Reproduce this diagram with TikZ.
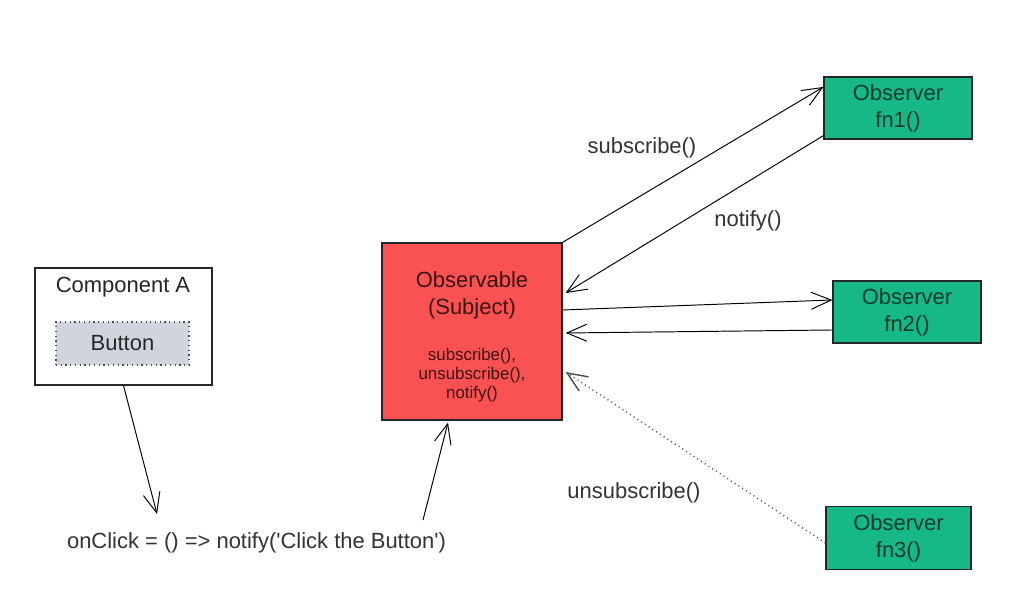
\documentclass[tikz,border=0pt]{standalone}
\usepackage{fontspec}
\setmainfont{Liberation Sans}
\usetikzlibrary{arrows.meta, positioning, calc}
\definecolor{obsred}{HTML}{FA5252}
\definecolor{obsgreen}{HTML}{15B886}
\definecolor{btngray}{HTML}{D0D5DD}
\definecolor{inkgray}{HTML}{333333}
\definecolor{redink}{HTML}{3B1212}
\definecolor{greenink}{HTML}{0D3A2B}

\tikzset{
  box/.style={draw=black!85, line width=0.7pt, inner sep=0pt},
  observer/.style={box, fill=obsgreen, minimum width=2.96cm, minimum height=1.24cm,
    align=center, text=greenink, font=\fontsize{12.5}{15.5}\selectfont},
  msg/.style={text=inkgray, font=\fontsize{12.5}{14}\selectfont},
  link/.style={draw=black, line width=0.55pt, -{Straight Barb[length=4mm, width=3.4mm]}},
}

\begin{document}
\begin{tikzpicture}

% Canvas (1017 x 598 px, 50 px = 1 cm)
\useasboundingbox (0,0) rectangle (20.34,11.96);
\fill[white] (0,0) rectangle (20.34,11.96);

% Component A with its button
\node[box, fill=white, minimum width=3.54cm, minimum height=2.34cm] (compA) at (2.47,5.43) {};
\node[msg, text=black!85] (compTitle) at (2.46,6.22) {Component A};
\node[box, draw=black!70, dotted, line width=0.8pt, fill=btngray,
  minimum width=2.66cm, minimum height=0.86cm, msg, text=black!85] (button) at (2.45,5.09) {\raisebox{-0.4ex}{Button}};

% Observable (subject)
\node[box, fill=obsred, minimum width=3.6cm, minimum height=3.54cm] (obs) at (9.44,5.33) {};
\node[align=center, text=redink, font=\fontsize{12.5}{15.5}\selectfont] (obsTitle) at (9.44,6.06)
  {Observable\\(Subject)};
\node[align=center, text=redink, font=\fontsize{9.6}{11}\selectfont] (obsMethods) at (9.44,4.46)
  {subscribe(),\\unsubscribe(),\\notify()};

% Observers
\node[observer] (fn1) at (17.96,9.80) {Observer\\fn1()};
\node[observer] (fn2) at (18.14,5.72) {Observer\\fn2()};
\node[observer, minimum width=2.9cm, minimum height=1.26cm] (fn3) at (17.97,1.20) {Observer\\fn3()};

% Message labels
\node[msg] (subLabel) at (12.84,9.0) {subscribe()};
\node[msg] (notifyLabel) at (14.96,7.54) {notify()};
\node[msg] (unsubLabel) at (12.68,2.1) {unsubscribe()};
\node[msg] (onClick) at (5.13,1.11)
  {onClick = () => notify(\textquotesingle Click the Button\textquotesingle)};

\coordinate (clickIn) at (3.14,1.68);
\coordinate (clickOut) at (8.46,1.56);

% Connectors
\draw[link] (obs.north east) -- ([yshift=0.42cm]fn1.west);
\draw[link] ([yshift=0.08cm]fn1.south west) -- ([yshift=0.77cm, xshift=0.06cm]obs.east);
\draw[link] ([yshift=0.43cm]obs.east) -- ([yshift=0.24cm]fn2.west);
\draw[link] ([yshift=-0.36cm]fn2.west) -- ([yshift=-0.03cm, xshift=0.06cm]obs.east);
\draw[link, draw=black!70, dotted, line width=0.8pt] ([yshift=-0.1cm]fn3.west) -- ([yshift=-0.81cm, xshift=0.06cm]obs.east);
\draw[link] (compA.south) -- (clickIn);
\draw[link] (clickOut) -- ([xshift=-0.48cm, yshift=-0.04cm]obs.south);

\end{tikzpicture}
\end{document}
